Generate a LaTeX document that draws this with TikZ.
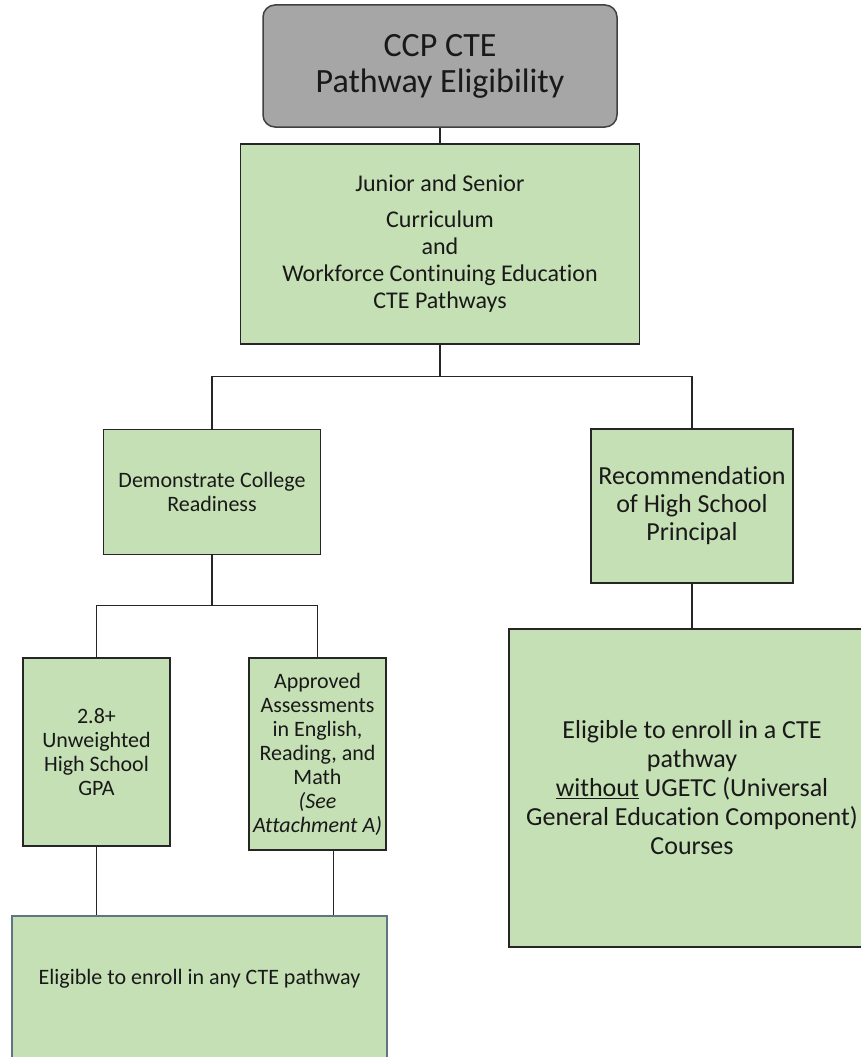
\documentclass[tikz,border=0pt]{standalone}
\usepackage{fontspec}
\setmainfont[RawFeature={-liga;-clig;-calt;-rlig}]{Carlito}
\usetikzlibrary{calc}
\definecolor{green4}{RGB}{197,224,180}
\definecolor{gray4}{RGB}{166,166,166}
\definecolor{edge4}{RGB}{38,38,38}
\definecolor{slate4}{RGB}{96,116,132}

\begin{document}
\begin{tikzpicture}[x=1pt, y=-1pt,
				box/.style=		{rectangle, inner sep=2pt, align=center, text=black!90},
				titlebox/.style=	{box, rounded corners=12pt, fill=gray4, draw=black!75, line width=1.5pt, font=\fontsize{34}{36}\selectfont},
				greenbox/.style=	{box, fill=green4, draw=edge4, line width=1.3pt},
				link/.style=		{draw=edge4, line width=1.2pt}]
	\def\splitdrop{32}
	\useasboundingbox (0,0) rectangle (860,1057);

	\node[titlebox, minimum width=354, minimum height=122] (title) at (440,66) {CCP CTE\\Pathway Eligibility};
	\node[greenbox, minimum width=399, minimum height=200, font=\fontsize{24}{27}\selectfont] (junior) at (440,244)
		{Junior and Senior\\[9pt]Curriculum\\and\\Workforce Continuing Education\\CTE Pathways};
	\node[greenbox, minimum width=217, minimum height=125, font=\fontsize{22}{24}\selectfont] (demo) at (212,492)
		{Demonstrate College\\Readiness};
	\node[greenbox, minimum width=202, minimum height=154, font=\fontsize{26}{28}\selectfont] (rec) at (692,506)
		{Recommendation\\of High School\\Principal};
	\node[greenbox, minimum width=147, minimum height=188, font=\fontsize{22}{24}\selectfont] (gpa) at (96.5,752)
		{2.8+\\Unweighted\\High School\\GPA};
	\node[greenbox, minimum width=137, minimum height=192, font=\fontsize{22}{24}\selectfont] (appr) at (317.5,754)
		{Approved\\Assessments\\in English,\\Reading, and\\Math\\\textit{(See}\\\textit{Attachment A)}};
	\node[greenbox, minimum width=366, minimum height=318, font=\fontsize{26}{29}\selectfont] (nougetc) at (692,788)
		{Eligible to enroll in a CTE\\pathway\\\underline{without} UGETC (Universal\\General Education Component)\\Courses};
	\node[greenbox, draw=slate4, minimum width=375, minimum height=160,
		label={[font=\fontsize{22}{24}\selectfont, text=black!90, anchor=center, yshift=-63]north:Eligible to enroll in any CTE pathway}]
		(anycte) at (199.5,996) {};

	\coordinate (jsplit) at ($(junior.south)+(0,\splitdrop)$);
	\coordinate (dsplit) at ($(demo.south)+(0,50)$);

	\draw[link] (title) -- (junior);
	\draw[link] (junior.south) -- (jsplit);
	\draw[link] (demo.north) |- (jsplit) -| (rec.north);
	\draw[link] (demo.south) -- (dsplit);
	\draw[link] (gpa.north) |- (dsplit) -| (appr.north);
	\draw[link] (rec) -- (nougetc);
	\draw[link] (gpa.south) -- (gpa.south |- anycte.north);
	\draw[link] ([xshift=16]appr.south) -- ([xshift=16]appr.south |- anycte.north);
\end{tikzpicture}
\end{document}
